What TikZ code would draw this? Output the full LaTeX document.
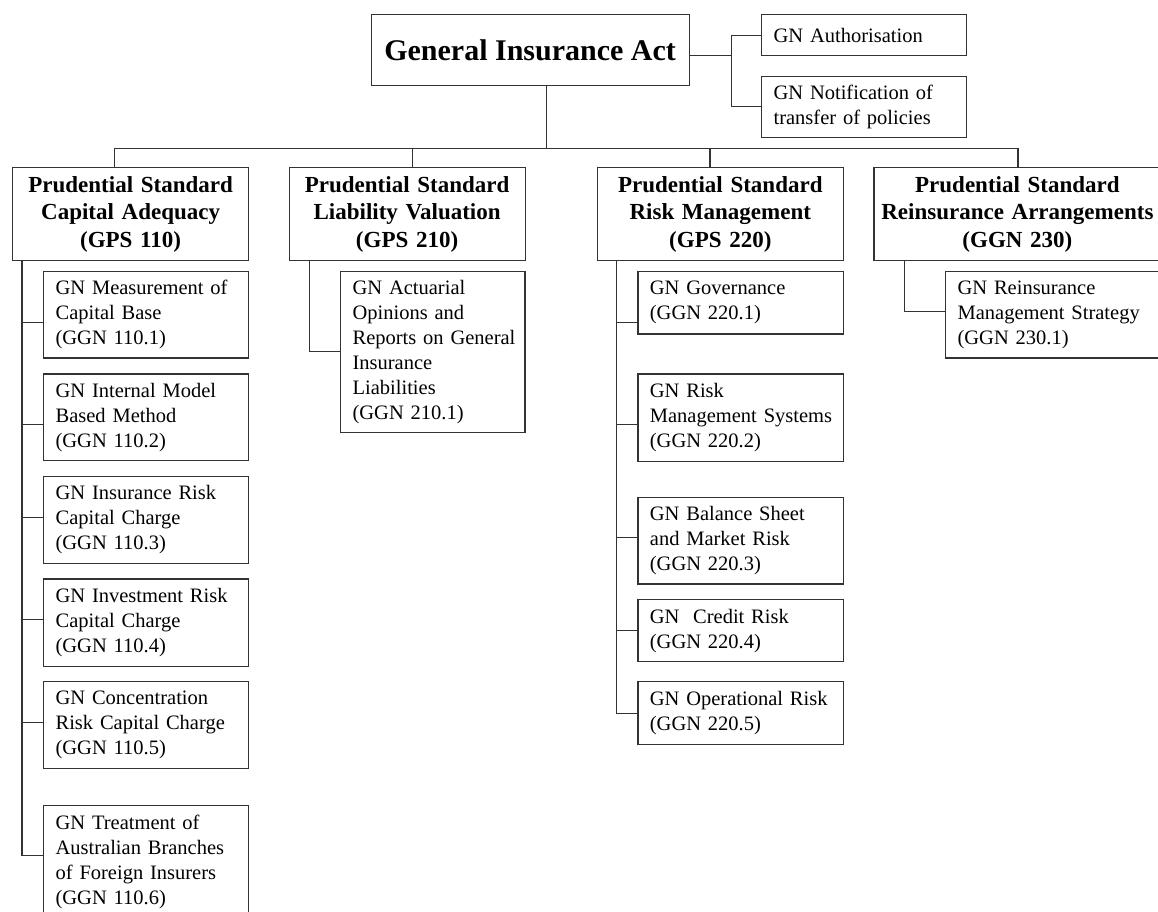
\documentclass[tikz,border=0pt]{standalone}
\usepackage{fontspec}
\setmainfont{Liberation Serif}
\begin{document}
\hyphenpenalty=10000
\exhyphenpenalty=10000
\begin{tikzpicture}[x=1pt,y=-1pt,
  box/.style={draw=black!80, line width=1.2pt, inner sep=0pt, anchor=north west},
  sub/.style={box, font=\fontsize{20.5}{25}\selectfont, align=left, inner xsep=12pt},
  std/.style={box, font=\fontsize{23}{27.5}\selectfont\bfseries, align=center},
  link/.style={draw=black!80, line width=1.2pt}]
\useasboundingbox (0,0) rectangle (1158,911);
\fill[white] (0,0) rectangle (1158,911);
\clip (0,0) rectangle (1158,911);

% top
\node[box, minimum width=318, minimum height=71, font=\fontsize{30}{36}\selectfont\bfseries] (act) at (370.5,14) {General Insurance Act};
\node[sub, text width=181, minimum height=41] (auth) at (761,14) {GN Authorisation};
\node[sub, text width=181, minimum height=61.5] (notif) at (761,75.5) {GN Notification of\\transfer of policies};

% level 2
\node[std, text width=236, minimum height=93] (p1) at (12,167) {Prudential Standard\\Capital Adequacy\\(GPS 110)};
\node[std, text width=236, minimum height=93] (p2) at (288.5,167) {Prudential Standard\\Liability Valuation\\(GPS 210)};
\node[std, text width=246, minimum height=93] (p3) at (596.7,167) {Prudential Standard\\Risk Management\\(GPS 220)};
\node[std, text width=287, minimum height=93] (p4) at (873.3,167) {Prudential Standard\\\mbox{Reinsurance Arrangements}\\(GGN 230)};

% subs GPS 110
\node[sub, text width=181, minimum height=86.6] (s11) at (43,270.7) {GN Measurement of\\Capital Base\\(GGN 110.1)};
\node[sub, text width=181, minimum height=86.7] (s12) at (43,373.3) {GN Internal Model\\Based Method\\(GGN 110.2)};
\node[sub, text width=181, minimum height=86.7] (s13) at (43,476) {GN Insurance Risk\\Capital Charge\\(GGN 110.3)};
\node[sub, text width=181, minimum height=87.4] (s14) at (43,578.3) {GN Investment Risk\\Capital Charge\\(GGN 110.4)};
\node[sub, text width=181, minimum height=87] (s15) at (43,681) {GN Concentration\\Risk Capital Charge\\(GGN 110.5)};
\node[sub, text width=181, minimum height=112] (s16) at (43,805) {GN Treatment of\\Australian Branches\\of Foreign Insurers\\(GGN 110.6)};

% subs GPS 210
\node[sub, text width=160.3, minimum height=161] (s21) at (340,270.7) {GN Actuarial\\Opinions and\\\mbox{Reports on General}\\Insurance\\Liabilities\\(GGN 210.1)};

% subs GPS 220
\node[sub, text width=181.4, minimum height=62.6] (s31) at (637.3,270.7) {GN Governance\\(GGN 220.1)};
\node[sub, text width=181.4, minimum height=87.4] (s32) at (637.3,373.3) {GN Risk\\\mbox{Management Systems}\\(GGN 220.2)};
\node[sub, text width=181.4, minimum height=86.6] (s33) at (637.3,496.7) {GN Balance Sheet\\and Market Risk\\(GGN 220.3)};
\node[sub, text width=181.4, minimum height=62] (s34) at (637.3,599) {GN\ \ Credit Risk\\(GGN 220.4)};
\node[sub, text width=181.4, minimum height=63] (s35) at (637.3,681) {GN Operational Risk\\(GGN 220.5)};

% subs GGN 230
\node[sub, text width=191, minimum height=86.6] (s41) at (945,270.7) {GN Reinsurance\\\mbox{Management Strategy}\\(GGN 230.1)};

% connectors top
\coordinate (j1) at ([xshift=41.5,yshift=-5.5]act.east);
\draw[link] ([yshift=-5.5]act.east) -- (j1);
\draw[link] (auth.west) -| (j1) |- (notif.west);

\coordinate (a0) at ([xshift=16]act.south);
\coordinate (bus) at ([xshift=16,yshift=-62]act.south);
\draw[link] (a0) -- (bus);
\coordinate (d1) at ([xshift=-16]p1.north);
\coordinate (d2) at ([xshift=5.3]p2.north);
\coordinate (d3) at ([xshift=-10.4]p3.north);
\coordinate (d4) at ([xshift=0.5]p4.north);
\draw[link] (d1) |- (bus) -| (d4);
\draw[link] (d2) -- (d2 |- bus);
\draw[link] (d3) -- (d3 |- bus);

% trunks
\coordinate (t1) at ([xshift=10]p1.south west);
\coordinate (t2) at ([xshift=21]p2.south west);
\coordinate (t3) at ([xshift=20]p3.south west);
\coordinate (t4) at ([xshift=31]p4.south west);

\draw[link] (t1) |- ([yshift=-7.7]s11.west);
\draw[link] (t1) |- ([yshift=-7.3]s12.west);
\draw[link] (t1) |- ([yshift=2.6]s13.west);
\draw[link] (t1) |- ([yshift=3]s14.west);
\draw[link] (t1) |- ([yshift=2.8]s15.west);
\draw[link] (t1) |- ([yshift=6]s16.west);

\draw[link] (t2) |- (s21.west);

\draw[link] (t3) |- ([yshift=-19.7]s31.west);
\draw[link] (t3) |- ([yshift=-7]s32.west);
\draw[link] (t3) |- ([yshift=3.3]s33.west);
\draw[link] (t3) |- (s34.west);
\draw[link] (t3) |- (s35.west);

\draw[link] (t4) |- ([yshift=3]s41.west);
\end{tikzpicture}
\end{document}
